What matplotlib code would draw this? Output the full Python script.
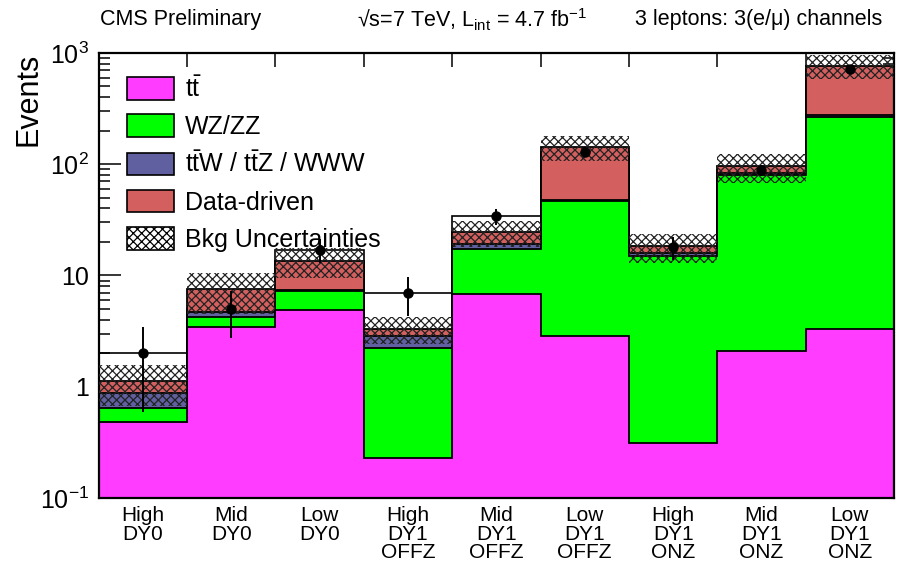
import numpy as np
import matplotlib
matplotlib.use('Agg')
import matplotlib.pyplot as plt
from matplotlib.patches import Patch
from matplotlib.ticker import LogLocator, NullFormatter

plt.rcParams['font.family'] = ['Liberation Sans', 'DejaVu Sans']
plt.rcParams['mathtext.fontset'] = 'custom'
plt.rcParams['mathtext.rm'] = 'Liberation Sans'
plt.rcParams['mathtext.it'] = 'Liberation Sans:italic'
plt.rcParams['mathtext.bf'] = 'Liberation Sans:bold'
plt.rcParams['hatch.linewidth'] = 0.9

# signal-region bins
channels = ['High\nDY0', 'Mid\nDY0', 'Low\nDY0',
            'High\nDY1\nOFFZ', 'Mid\nDY1\nOFFZ', 'Low\nDY1\nOFFZ',
            'High\nDY1\nONZ', 'Mid\nDY1\nONZ', 'Low\nDY1\nONZ']

# background expectations (stacked, bottom to top)
ttbar = [0.48, 3.45, 4.9, 0.23, 6.8, 2.85, 0.31, 2.1, 3.3]
wz_zz = [0.17, 0.75, 2.4, 2.0, 10.5, 43.5, 14.7, 77.5, 263.0]
ttv_www = [0.22, 0.45, 0.1, 0.6, 1.9, 1.5, 1.0, 3.5, 8.0]
data_driven = [0.25, 2.85, 6.2, 0.5, 5.3, 95.0, 2.2, 13.0, 494.0]
bkg_unc = [0.45, 3.0, 4.1, 0.9, 6.5, 36.0, 5.4, 28.0, 190.0]

# observed events
observed = [2, 5, 17, 7, 34, 130, 18, 88, 710]
observed_err = [1.41, 2.24, 4.12, 2.65, 5.83, 11.4, 4.24, 9.38, 26.6]

layers = [(ttbar, '#FF3CFF', r'$\mathrm{t\bar{t}}$'),
          (wz_zz, '#00FF00', 'WZ/ZZ'),
          (ttv_www, '#605FA0', r'$\mathrm{t\bar{t}}$W / $\mathrm{t\bar{t}}$Z / WWW'),
          (data_driven, '#D35F5F', 'Data-driven')]

fig = plt.figure(figsize=(8.98, 5.63), dpi=100)
ax = fig.add_axes([0.110, 0.1155, 0.8855, 0.7905])

edges = np.arange(len(channels) + 1)
centers = edges[:-1] + 0.5

# data as a step line, sitting underneath the stack
ax.stairs(observed, edges, baseline=None, color='k', lw=1.2, zorder=1)

bottom = np.zeros(len(channels))
for vals, col, lab in layers:
    top = bottom + np.array(vals)
    ax.stairs(top, edges, baseline=bottom, fill=True, color=col, lw=0, zorder=2)
    ax.stairs(top, edges, baseline=None, color='k', lw=1.3, zorder=3)
    bottom = top

unc = np.array(bkg_unc)
ax.stairs(bottom + unc, edges, baseline=bottom - unc, fill=True,
          facecolor='none', edgecolor='#222222', hatch='xxxx', lw=0, zorder=4)

ax.errorbar(centers, observed, yerr=observed_err, fmt='o', color='k',
            ms=6.5, lw=1.4, capsize=0, zorder=6)

ax.set_yscale('log')
ax.set_ylim(0.1, 1000)
ax.set_xlim(0, len(channels))

ax.set_yticks([0.1, 1, 10, 100, 1000],
              [r'$\mathrm{10^{-1}}$', '1', '10', r'$\mathrm{10^{2}}$', r'$\mathrm{10^{3}}$'])
ax.yaxis.set_minor_locator(LogLocator(base=10, subs=np.arange(2, 10)))
ax.yaxis.set_minor_formatter(NullFormatter())
ax.tick_params(axis='y', which='major', direction='in', length=16, width=1.1,
               left=True, right=True, labelsize=18, pad=7)
ax.tick_params(axis='y', which='minor', direction='in', length=8, width=1.1,
               left=True, right=True)

ax.set_xticks(edges[1:-1])
ax.set_xticklabels([])
ax.set_xticks(centers, channels, minor=True)
ax.tick_params(axis='x', which='major', direction='in', length=10, width=1.1,
               top=True, bottom=True)
ax.tick_params(axis='x', which='minor', length=0, pad=6)
for lbl in ax.get_xticklabels(minor=True):
    lbl.set_fontsize(15)
    lbl.set_linespacing(0.95)

for sp in ax.spines.values():
    sp.set_linewidth(1.6)

ax.set_ylabel('Events', fontsize=22, loc='top')
ax.yaxis.set_label_coords(-0.069, 1.0)

handles = [Patch(facecolor=col, edgecolor='k', lw=1.2, label=lab)
           for vals, col, lab in layers]
handles.append(Patch(facecolor='white', edgecolor='k', hatch='xxxx', lw=1.2,
                     label='Bkg Uncertainties'))
ax.legend(handles=handles, loc='upper left', bbox_to_anchor=(0.035, 0.948),
          frameon=False, fontsize=18, handlelength=1.9, handleheight=1.0,
          labelspacing=0.5, handletextpad=0.45, borderaxespad=0, borderpad=0)

fig.text(0.111, 0.9645, 'CMS Preliminary', fontsize=15.5, va='center')
fig.text(0.397, 0.9645, '√s=7 TeV, L$_{\\mathrm{int}}$ = 4.7 fb$^{\\mathrm{-1}}$',
         fontsize=15.5, va='center')
fig.text(0.982, 0.9645, '3 leptons: 3(e/μ) channels', fontsize=15.5,
         va='center', ha='right')

fig.savefig('out.png', dpi=100)
